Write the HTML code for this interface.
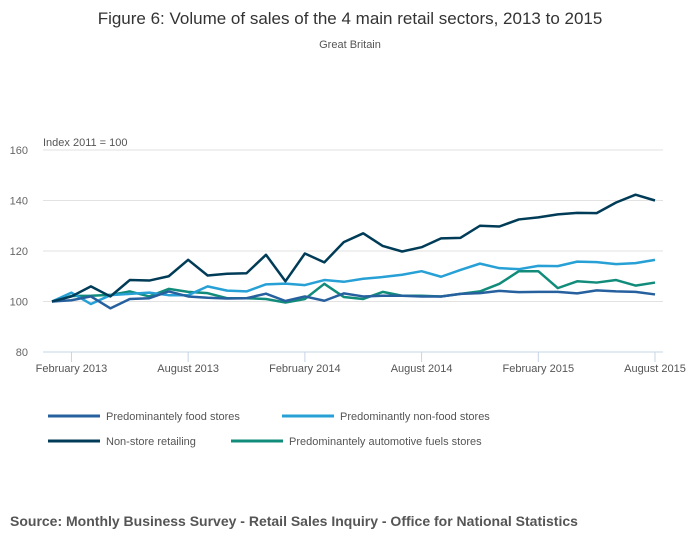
<!DOCTYPE html>
<html><head><meta charset="utf-8"><style>
body{margin:0;background:#fff;font-family:"Liberation Sans",sans-serif;}
</style></head><body>
<svg width="700" height="549" xmlns="http://www.w3.org/2000/svg">
<text x="350" y="24" text-anchor="middle" font-size="17" fill="#333">Figure 6: Volume of sales of the 4 main retail sectors, 2013 to 2015</text>
<text x="350" y="48" text-anchor="middle" font-size="11" fill="#555">Great Britain</text>
<text x="43" y="146" font-size="11" fill="#555">Index 2011 = 100</text>
<g id="grid"></g>
<g id="yticks"></g>
<g id="xticks"></g>
<g id="series"></g>
<g id="legend"></g>
<text x="10" y="526" font-size="14" font-weight="bold" fill="#555">Source: Monthly Business Survey - Retail Sales Inquiry - Office for National Statistics</text>
</svg>
<script>
const yTicks=[80,100,120,140,160];
const xTickLabels=["February 2013","August 2013","February 2014","August 2014","February 2015","August 2015"];
const xTickIndex=[1,7,13,19,25,31];
const foodStores=[100,100.5,102,97.3,101,101.3,104,102,101.5,101.2,101.3,103.1,100.2,102,100.3,103.2,102,102.3,102.3,102,102,103,103.3,104.2,103.7,103.8,103.8,103.2,104.4,104,103.8,102.8];
const nonFoodStores=[100,103.5,99,102.5,103,103.5,102.5,102.5,106,104.3,104,106.8,107.1,106.5,108.5,107.8,109,109.7,110.6,112,109.8,112.5,115,113.2,112.8,114.1,114,115.8,115.6,114.8,115.2,116.5];
const nonStore=[100,102,106,102,108.5,108.3,110,116.5,110.3,111,111.2,118.5,108,119,115.5,123.5,127,122,119.8,121.5,125,125.2,130,129.7,132.5,133.3,134.5,135.1,135,139.2,142.3,140];
const fuelStores=[100,102.2,102.3,102.6,104,102,105,103.8,103.3,101.3,101.3,101,99.6,101,107,101.8,101,103.8,102.3,102.3,102,103,104,107,112,112,105.3,108,107.5,108.5,106.3,107.5];
const seriesNames=["Predominantely food stores","Predominantly non-food stores","Non-store retailing","Predominantely automotive fuels stores"];
const NS="http://www.w3.org/2000/svg";
const x0=52,dx=(655-52)/31;
const X=i=>x0+i*dx;
const Y=v=>352-(v-80)*(202/80);
function mk(t,a,p){const e=document.createElementNS(NS,t);for(const k in a)e.setAttribute(k,a[k]);p.appendChild(e);return e;}
const grid=document.getElementById('grid'),yt=document.getElementById('yticks'),xt=document.getElementById('xticks');
yTicks.forEach(v=>{
 const l=mk('line',{x1:43,x2:663,y1:Y(v),y2:Y(v),stroke:v===80?'#c6d4e6':'#e2e2e2','stroke-width':1},grid);
 
 
 const t=mk('text',{x:28,y:Y(v)+4,'text-anchor':'end','font-size':11,fill:'#666'},yt);
 t.textContent=v;
 
 
});
xTickLabels.forEach((s,k)=>{
 const x=X(xTickIndex[k]);
 const l=mk('line',{x1:x,x2:x,y1:352,y2:362,stroke:'#c6d4e6'},xt);
 
 
 const t=mk('text',{x:x,y:372,'text-anchor':'middle','font-size':11,fill:'#555'},xt);
 t.textContent=s;
 
 
});
const data=[foodStores,nonFoodStores,nonStore,fuelStores];
const colors=['#27609e','#27a0d6','#003c57','#118c7b'];
const order=[3,1,0,2];
const sg=document.getElementById('series');
order.forEach(k=>{
 const p=mk('polyline',{points:data[k].map((v,i)=>X(i)+','+Y(v)).join(' '),fill:'none',stroke:colors[k],'stroke-width':2.5,'stroke-linejoin':'round'},sg);
 
 
});
const lg=document.getElementById('legend');
const pos=[[48,416],[282,416],[48,441],[231,441]];
seriesNames.forEach((s,k)=>{
 const [lx,ly]=pos[k];
 const g=mk('g',{},lg);
 
 
 mk('line',{x1:lx,x2:lx+52,y1:ly,y2:ly,stroke:colors[k],'stroke-width':3},g);
 const t=mk('text',{x:lx+58,y:ly+4,'font-size':11,fill:'#555'},g);
 t.textContent=s;
});
</script>
</body></html>
